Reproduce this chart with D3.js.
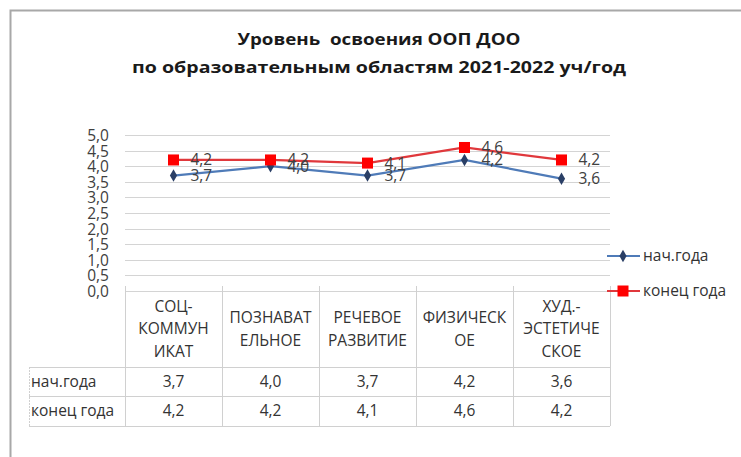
<!DOCTYPE html>
<html><head><meta charset="utf-8">
<script src="https://cdn.jsdelivr.net/npm/d3@7"></script>
<style>
html,body{margin:0;padding:0;background:#fff;}
svg{display:block;}
text{font-family:"Open Sans","Noto Sans",sans-serif;white-space:pre;}
</style></head>
<body>
<script>
// ---- data ----
const titleLines = ["Уровень  освоения ООП ДОО", "по образовательным областям 2021-2022 уч/год"];
const categories = [
  ["СОЦ-","КОММУН","ИКАТ"],
  ["ПОЗНАВАТ","ЕЛЬНОЕ"],
  ["РЕЧЕВОЕ","РАЗВИТИЕ"],
  ["ФИЗИЧЕСК","ОЕ"],
  ["ХУД.-","ЭСТЕТИЧЕ","СКОЕ"]
];
const seriesNames = ["нач.года", "конец года"];
const startValues = [3.7, 4.0, 3.7, 4.2, 3.6];
const endValues   = [4.2, 4.2, 4.1, 4.6, 4.2];
const yTicks = [0,0.5,1,1.5,2,2.5,3,3.5,4,4.5,5];

const W = 741, H = 457;
const svg = d3.select("body").append("svg").attr("width", W).attr("height", H);
const fmt = v => d3.format(".1f")(v).replace(".", ",");
const FS = 15.5;

// frame
svg.append("path").attr("d", `M10.5,${H} L10.5,10.5 L${W},10.5`)
  .attr("fill","none").attr("stroke","#a8a8a8").attr("stroke-width",2);

// title
const titleW = [283, 494];
titleLines.forEach((t,i)=>{
  svg.append("text").attr("x", 379).attr("y", 45 + i*28)
    .attr("text-anchor","middle").attr("font-size",16).attr("font-weight","bold")
    .attr("fill","#1a1a1a").attr("textLength", titleW[i]).attr("lengthAdjust","spacingAndGlyphs")
    .text(t);
});

const x = d3.scaleBand().domain(d3.range(categories.length)).range([125, 610]);
const y = d3.scaleLinear().domain([0,5]).range([291, 135]);
const cx = i => x(i) + x.bandwidth()/2;

// gridlines
svg.append("g").selectAll("line").data(yTicks).join("line")
  .attr("x1", 125).attr("x2", 610)
  .attr("y1", d=>Math.round(y(d))+0.5).attr("y2", d=>Math.round(y(d))+0.5)
  .attr("stroke", "#d4d4d4").attr("stroke-width",1);

// y axis labels
const yAxis = d3.axisLeft(y).tickValues(yTicks).tickFormat(fmt).tickSize(0).tickPadding(0);
const ga = svg.append("g").attr("transform","translate(109,0)").call(yAxis);
ga.select(".domain").remove();
ga.selectAll("text").attr("font-size",FS).attr("fill","#404040")
  .attr("font-family","'Open Sans','Noto Sans',sans-serif").attr("dy","0.35em");

// table
const tbl = svg.append("g").attr("stroke","#d0d0d0").attr("stroke-width",1).attr("fill","none");
const bounds = d3.range(categories.length+1).map(i => i<categories.length ? x(i) : x.range()[1]);
bounds.forEach(b=>{
  tbl.append("line").attr("x1",Math.round(b)+0.5).attr("x2",Math.round(b)+0.5).attr("y1",286).attr("y2",426);
});
[367,396,426].forEach(yy=>{
  tbl.append("line").attr("x1",29).attr("x2",610).attr("y1",yy+0.5).attr("y2",yy+0.5);
});
tbl.append("line").attr("x1",29.5).attr("x2",29.5).attr("y1",367).attr("y2",426).attr("stroke-dasharray","2,1");

// category labels
categories.forEach((lines,i)=>{
  const n = lines.length;
  const mid = 329;
  lines.forEach((ln,j)=>{
    svg.append("text").attr("x", cx(i)).attr("y", mid + (j-(n-1)/2)*22.5)
      .attr("dy","0.35em").attr("text-anchor","middle").attr("font-size",FS)
      .attr("fill","#333").text(ln);
  });
});

// table rows
const rows = [startValues, endValues];
rows.forEach((vals,r)=>{
  const yy = 382 + r*29;
  svg.append("text").attr("x",31).attr("y",yy).attr("dy","0.35em").attr("font-size",FS)
    .attr("fill","#333").text(seriesNames[r]);
  vals.forEach((v,i)=>{
    svg.append("text").attr("x",cx(i)).attr("y",yy).attr("dy","0.35em").attr("text-anchor","middle")
      .attr("font-size",FS).attr("fill","#333").text(fmt(v));
  });
});

// lines
const line = d3.line().x((d,i)=>cx(i)).y(d=>y(d));
const colors = {start:{line:"#4f7bb8", marker:"#2a3f66"}, end:{line:"#e0383c", marker:"#ff0000"}};
svg.append("path").datum(startValues).attr("d",line).attr("fill","none")
  .attr("stroke",colors.start.line).attr("stroke-width",2.2);
svg.append("path").datum(endValues).attr("d",line).attr("fill","none")
  .attr("stroke",colors.end.line).attr("stroke-width",2.2);

const diamond = d3.symbol().type(d3.symbolDiamond).size(45);
svg.append("g").selectAll("path").data(startValues).join("path")
  .attr("d",diamond).attr("transform",(d,i)=>`translate(${cx(i)},${y(d)})`)
  .attr("fill",colors.start.marker);
svg.append("g").selectAll("rect").data(endValues).join("rect")
  .attr("x",(d,i)=>cx(i)-5.5).attr("y",d=>y(d)-5.5).attr("width",11).attr("height",11)
  .attr("fill",colors.end.marker);

// data labels
[startValues, endValues].forEach(vals=>{
  svg.append("g").selectAll("text").data(vals).join("text")
    .attr("x",(d,i)=>cx(i)+17).attr("y",d=>y(d)).attr("dy","0.35em")
    .attr("font-size",FS).attr("fill","#404040").text(d=>fmt(d));
});

// legend
const leg = [
  {name:seriesNames[0], y:256, c:colors.start, type:"d"},
  {name:seriesNames[1], y:291, c:colors.end, type:"s"}
];
leg.forEach(l=>{
  svg.append("line").attr("x1",607).attr("x2",640).attr("y1",l.y).attr("y2",l.y)
    .attr("stroke",l.c.line).attr("stroke-width",2.2);
  if(l.type==="d"){
    svg.append("path").attr("d",diamond).attr("transform",`translate(623,${l.y})`).attr("fill",l.c.marker);
  } else {
    svg.append("rect").attr("x",617.5).attr("y",l.y-5.5).attr("width",11).attr("height",11).attr("fill",l.c.marker);
  }
  svg.append("text").attr("x",643).attr("y",l.y).attr("dy","0.35em").attr("font-size",FS)
    .attr("fill","#333").text(l.name);
});
</script>
</body></html>
